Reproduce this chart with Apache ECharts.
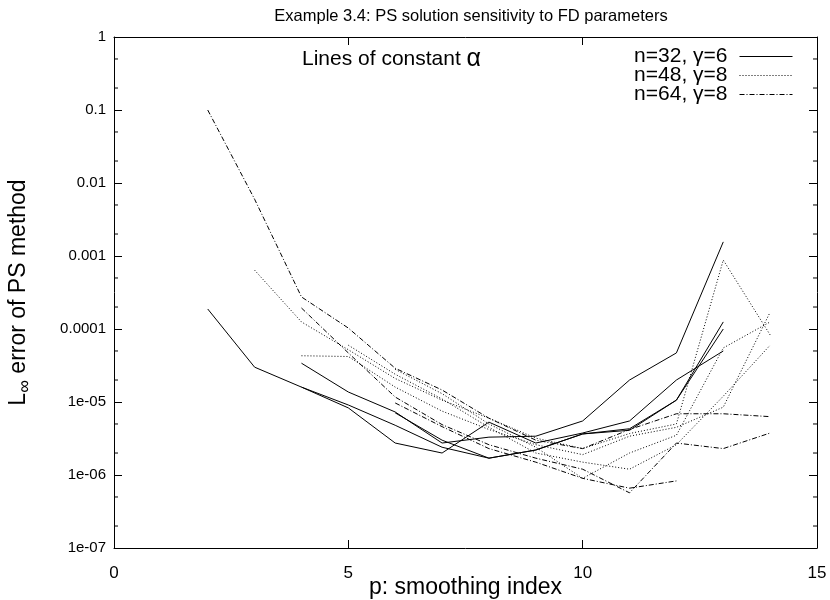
<!DOCTYPE html>
<html>
<head>
<meta charset="utf-8">
<script src="https://cdn.jsdelivr.net/npm/echarts@6/dist/echarts.min.js"></script>
<style>html,body{margin:0;padding:0;background:#fff}#c{width:830px;height:600px}</style>
</head>
<body>
<div id="c"></div>
<script>
// ---- data ----
const pValues = [2, 3, 4, 5, 6, 7, 8, 9, 10, 11, 12, 13, 14];
const xTicks = [0, 5, 10, 15];
const yTickLabels = ['1e-07', '1e-06', '1e-05', '0.0001', '0.001', '0.01', '0.1', '1'];
const seriesNames = ['n=32, \u03b3=6', 'n=48, \u03b3=8', 'n=64, \u03b3=8'];

// n=32, gamma=6 (solid)
const n32_a = [1.88e-4, 3.0e-5, 1.6e-5, 9.1e-6, 4.8e-6, 2.4e-6, 1.7e-6, 2.2e-6, 3.65e-6, 4.1e-6, 1.06e-5, 1.25e-4, null];
const n32_b = [null, null, 3.4e-5, 1.37e-5, 7.3e-6, 2.74e-6, 3.3e-6, 3.4e-6, 5.5e-6, 2.0e-5, 4.7e-5, 1.56e-3, null];
const n32_c = [null, null, 1.6e-5, 8.3e-6, 2.74e-6, 2.0e-6, 5.3e-6, 2.74e-6, 3.76e-6, 5.5e-6, 2.0e-5, 5.0e-5, null];
const n32_d = [null, null, null, null, 7.1e-6, 3.0e-6, 1.7e-6, 2.2e-6, 3.65e-6, 4.3e-6, 1.06e-5, 1.0e-4, null];

// n=48, gamma=8 (dotted)
const n48_a = [null, 6.4e-4, 1.25e-4, 5.2e-5, 2.1e-5, 1.06e-5, 6.0e-6, 3.2e-6, 2.3e-6, 3.7e-6, 5.0e-6, 8.8e-4, 8.3e-5];
const n48_b = [null, null, 4.3e-5, 4.2e-5, 1.6e-5, 7.5e-6, 4.2e-6, 2.6e-6, 1.9e-6, 3.4e-6, 4.5e-6, 8.5e-6, 1.7e-4];
const n48_c = [null, null, null, null, 2.8e-5, 1.3e-5, 5.0e-6, 2.4e-6, 9.0e-7, 2.0e-6, 3.5e-6, 5.5e-5, 1.25e-4];
const n48_d = [null, null, null, 6.0e-5, 2.4e-5, 1.1e-5, 4.5e-6, 2.0e-6, 1.5e-6, 1.2e-6, 2.6e-6, 1.2e-5, 6.0e-5];

// n=64, gamma=8 (dash-dot)
const n64_a = [0.1, 6.0e-3, 2.75e-4, 1.03e-4, 2.9e-5, 1.46e-5, 6.0e-6, 3.0e-6, 2.3e-6, 4.2e-6, 6.9e-6, 6.9e-6, 6.3e-6];
const n64_b = [null, null, 1.94e-4, 4.7e-5, 1.17e-5, 4.9e-6, 2.6e-6, 1.7e-6, 1.2e-6, 5.7e-7, 2.74e-6, 2.3e-6, 3.76e-6];
const n64_c = [null, null, null, null, 9.7e-6, 4.6e-6, 2.3e-6, 1.5e-6, 9.0e-7, 6.6e-7, 8.3e-7, null, null];

const groups = [
  { name: seriesNames[0], lines: [n32_a, n32_b, n32_c, n32_d], dash: 'solid' },
  { name: seriesNames[1], lines: [n48_a, n48_b, n48_c, n48_d], dash: [1, 2] },
  { name: seriesNames[2], lines: [n64_a, n64_b, n64_c], dash: [5, 2, 1, 2] }
];

// ---- chart ----
const FONT = 'Liberation Sans, Arial, Helvetica, sans-serif';
const chart = echarts.init(document.getElementById('c'), null, { renderer: 'canvas' });

const series = [];
groups.forEach(g => {
  g.lines.forEach(vals => {
    const data = [];
    vals.forEach((v, i) => { if (v !== null) data.push([pValues[i], v]); });
    series.push({
      name: g.name, type: 'line', data: data, symbol: 'none', showSymbol: false,
      xAxisIndex: 0, yAxisIndex: 0, silent: true, animation: false,
      lineStyle: { color: '#000', width: 1, type: g.dash },
      itemStyle: { color: '#000' }
    });
  });
});

function yLabel(v) {
  const e = Math.round(Math.log10(v));
  return yTickLabels[e + 7] || '';
}

const option = {
  animation: false,
  backgroundColor: '#fff',
  title: {
    text: 'Example 3.4: PS solution sensitivity to FD parameters',
    left: 466, top: 3, textAlign: 'center',
    textStyle: { fontFamily: FONT, fontSize: 16.5, fontWeight: 'normal', color: '#000' }
  },
  legend: {
    data: seriesNames, orient: 'vertical', right: 37, top: 46, align: 'right', padding: 0,
    itemWidth: 53, itemHeight: 10, itemGap: -2,
    itemStyle: { opacity: 0, borderWidth: 0 },
    lineStyle: { width: 1 },
    textStyle: { fontFamily: FONT, fontSize: 21, color: '#000', padding: [0, 7, 0, 0] },
    selectedMode: false
  },
  grid: { left: 114, right: 13, top: 37, bottom: 52, containLabel: false, outerBoundsMode: 'none' },
  xAxis: [{
    type: 'value', min: 0, max: 15, interval: 5, position: 'bottom',
    name: 'p: smoothing index', nameLocation: 'middle', nameGap: 28, nameMoveOverlap: false,
    nameTextStyle: { fontFamily: FONT, fontSize: 23, color: '#000' },
    axisLine: { show: true, onZero: false, lineStyle: { color: '#000', width: 1 } },
    axisTick: { show: true, inside: true, length: 8, lineStyle: { color: '#000' } },
    axisLabel: { fontFamily: FONT, fontSize: 17, color: '#000', margin: 17, formatter: v => String(xTicks.indexOf(v) >= 0 ? v : '') },
    splitLine: { show: false }
  }, {
    type: 'value', min: 0, max: 15, interval: 5, position: 'top',
    axisLine: { show: true, onZero: false, lineStyle: { color: '#000', width: 1 } },
    axisTick: { show: true, inside: true, length: 8, lineStyle: { color: '#000' } },
    axisLabel: { show: false }, splitLine: { show: false }
  }],
  yAxis: [{
    type: 'log', logBase: 10, min: 1e-7, max: 1, position: 'left',
    name: 'L{sub|\u221e} error of PS method', nameLocation: 'middle', nameGap: 80, nameMoveOverlap: false,
    nameTextStyle: { fontFamily: FONT, fontSize: 23, color: '#000',
      rich: { sub: { fontFamily: FONT, fontSize: 18, color: '#000', padding: [12, 0, 0, 0] } } },
    axisLine: { show: true, onZero: false, lineStyle: { color: '#000', width: 1 } },
    axisTick: { show: true, inside: true, length: 8, lineStyle: { color: '#000' } },
    axisLabel: { fontFamily: FONT, fontSize: 15, color: '#000', margin: 8, formatter: yLabel },
    splitLine: { show: false }, minorTick: { show: false }
  }, {
    type: 'log', logBase: 10, min: 1e-7, max: 1, position: 'right',
    axisLine: { show: true, onZero: false, lineStyle: { color: '#000', width: 1 } },
    axisTick: { show: true, inside: true, length: 8, lineStyle: { color: '#000' } },
    axisLabel: { show: false }, splitLine: { show: false }
  }],
  graphic: [{
    type: 'text', left: 302, top: 47,
    style: { text: 'Lines of constant {a|\u03b1}', fontFamily: FONT, fontSize: 21, fill: '#000',
      rich: { a: { fontFamily: FONT, fontSize: 25, fill: '#000' } } }
  }],
  series: series
};
chart.setOption(option);

// minor ticks (2 and 5 in each decade) on left and right frame, placed through the axis scale
const minorVals = [];
for (let e = -7; e < 0; e++) { minorVals.push(2 * Math.pow(10, e)); minorVals.push(5 * Math.pow(10, e)); }
const extra = [];
const xl = chart.convertToPixel({ xAxisIndex: 0 }, 0);
const xr = chart.convertToPixel({ xAxisIndex: 0 }, 15);
minorVals.forEach(v => {
  const y = chart.convertToPixel({ yAxisIndex: 0 }, v);
  extra.push({ type: 'line', shape: { x1: xl, y1: y, x2: xl + 4, y2: y }, style: { stroke: '#000', lineWidth: 1 }, silent: true });
  extra.push({ type: 'line', shape: { x1: xr - 4, y1: y, x2: xr, y2: y }, style: { stroke: '#000', lineWidth: 1 }, silent: true });
});
chart.setOption({ graphic: option.graphic.concat(extra) });
</script>
</body>
</html>
